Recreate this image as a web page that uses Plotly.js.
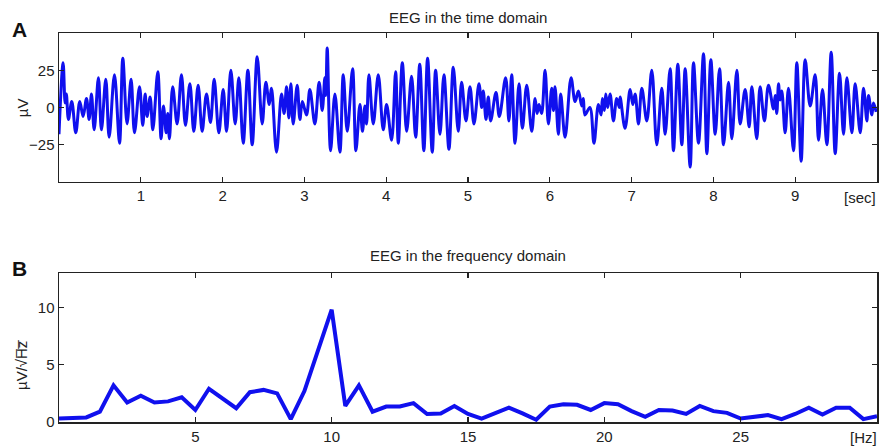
<!DOCTYPE html>
<html>
<head>
<meta charset="utf-8">
<script src="https://cdn.plot.ly/plotly-3.0.1.min.js"></script>
<style>html,body{margin:0;padding:0;background:#fff;}#chart{width:880px;height:448px;}</style>
</head>
<body>
<div id="chart"></div>
<script>
// Time domain EEG: turning points (seconds, microvolts)
const timeSec = [0.00,0.05,0.075,0.09,0.115,0.156,0.205,0.254,0.295,0.336,0.368,0.397,0.43,0.482,0.519,0.572,0.613,0.678,0.74,0.78,0.832,0.881,0.923,0.984,1.024,1.053,1.077,1.114,1.147,1.208,1.248,1.277,1.31,1.33,1.35,1.39,
1.444,1.497,1.546,1.60,1.648,1.701,1.75,1.803,1.852,1.897,1.954,2.007,2.048,2.101,2.154,2.199,2.252,2.309,2.362,2.423,2.484,2.529,2.57,2.598,2.659,2.72,
2.752,2.782,2.81,2.835,2.863,2.912,2.945,2.975,3.026,3.067,3.128,3.18,3.218,3.25,3.262,3.279,3.32,3.373,3.434,3.475,3.524,3.589,3.63,3.679,3.71,3.74,3.76,3.789,3.842,3.903,3.964,4.005,4.066,4.115,4.148,4.197,
4.25,4.31,4.36,4.41,4.46,4.506,4.563,4.604,4.657,4.706,4.767,4.82,4.881,4.922,4.975,5.024,5.073,5.134,5.167,5.187,5.22,5.248,5.277,5.342,5.383,5.46,5.50,5.534,5.575,
5.624,5.665,5.718,5.779,5.82,5.845,5.868,5.9,5.942,5.983,6.023,6.045,6.064,6.105,6.133,6.187,6.26,6.309,6.35,6.39,6.41,6.43,6.49,6.54,6.594,6.627,6.643,6.667,6.684,6.708,6.737,6.778,6.818,6.85,6.86,6.92,
6.982,7.015,7.043,7.084,7.125,7.186,7.247,7.308,7.369,7.41,7.471,7.512,7.565,7.614,7.655,7.716,7.757,7.818,7.879,7.92,7.969,8.022,8.075,8.124,8.185,8.225,8.287,8.327,8.388,
8.437,8.47,8.53,8.571,8.624,8.673,8.735,8.755,8.775,8.796,8.815,8.836,8.877,8.918,8.979,9.02,9.073,9.122,9.183,9.244,9.285,9.334,9.387,9.44,9.489,9.542,9.591,9.632,9.693,9.733,9.795,9.835,9.876,9.896,9.937,9.957,9.99];
const eegUv = [-18,30,3,9,-8,4,-17,4,-6,6,-8,9,-15,20,-15,19,-20,22,-24,33,-11,19,-17,14,-12,9,-6,7,-15,24,-21,1,-17,-4,-21,14,
-11,22,-12,16,-16,15,-16,9,-10,19,-17,12,-16,25,-11,20,-24,25,-25,34,-11,17,2,13,-30,9,
-4,14,-7,16,-11,15,-8,4,-5,12,-11,17,-2,20,8,40,-29,9,-30,22,-16,26,-29,2,-16,1,-11,22,-11,22,-15,2,-22,24,-24,30,
-16,21,-20,29,-29,33,-30,25,-18,22,-28,27,-16,17,-9,14,-11,16,0,11,-8,7,-9,10,-6,20,-9,22,-24,
16,-14,15,-16,6,-4,2,-4,25,-11,13,-2,14,-18,9,-20,20,4,11,1,6,-5,0,-24,2,-5,6,-2,9,0,9,-9,6,0,7,-14,
12,2,9,-11,13,-9,25,-25,13,-18,26,-29,29,-25,26,-40,30,-24,36,-31,32,-18,26,-25,17,-21,25,-11,12,
-13,14,-21,14,-9,15,-1,8,-4,16,5,11,-17,13,-29,30,-36,32,1,22,-22,12,-25,37,-31,23,-18,20,-17,16,-17,13,-9,8,-5,3,-3];

// Frequency domain amplitude spectrum (Hz, microvolt per root hertz)
const freqHz = [0,0.5,1,1.5,2,2.5,3,3.5,4,4.5,5,5.5,6,6.5,7,7.5,8,8.5,9,9.5,10,10.5,11,11.5,12,12.5,13,13.5,14,14.5,15,15.5,16,16.5,17,17.5,18,18.5,19,19.5,20,20.5,21,21.5,22,22.5,23,23.5,24,24.5,25,25.5,26,26.5,27,27.5,28,28.5,29,29.5,30];
const amplitude = [0.3,0.35,0.4,0.9,3.2,1.7,2.3,1.7,1.8,2.15,1.05,2.9,2.0,1.2,2.6,2.8,2.5,0.25,2.7,6.3,9.8,1.4,3.2,0.9,1.35,1.35,1.65,0.7,0.75,1.4,0.7,0.3,0.8,1.25,0.75,0.2,1.35,1.55,1.5,1.05,1.65,1.55,0.95,0.45,1.05,1.0,0.7,1.4,0.95,0.8,0.3,0.45,0.6,0.25,0.7,1.25,0.65,1.25,1.25,0.25,0.5];

const timeTicks = [1,2,3,4,5,6,7,8,9];
const freqTicks = [5,10,15,20,25];
const uvTicks = [-25,0,25];
const ampTicks = [0,5,10];

const fam = '"Liberation Sans", Arial, Helvetica, sans-serif';
const txt = {family:fam, size:15, color:'#222'};
const axisCommon = {showline:true, linecolor:'#222', linewidth:1.5, mirror:'ticks', ticks:'inside', ticklen:5, tickwidth:1.2, tickcolor:'#222', showgrid:false, zeroline:false, tickfont:txt};

const data = [
  {x: timeSec, y: eegUv, type:'scatter', mode:'lines', line:{color:'#1010ee', width:3, shape:'spline', smoothing:1}, xaxis:'x', yaxis:'y', hoverinfo:'skip'},
  {x: freqHz, y: amplitude, type:'scatter', mode:'lines', line:{color:'#1010ee', width:4}, xaxis:'x2', yaxis:'y2', hoverinfo:'skip'}
];

function note(text, x, y, extra) {
  return Object.assign({text:text, xref:'paper', yref:'paper', x:x, y:y, xanchor:'center', yanchor:'middle', showarrow:false, font:txt}, extra || {});
}

const layout = {
  width:880, height:448,
  margin:{l:59, r:3, t:33, b:26},
  paper_bgcolor:'#fff', plot_bgcolor:'#fff',
  font: txt,
  showlegend:false,
  xaxis: Object.assign({}, axisCommon, {domain:[0,1], range:[0,10], tickvals:timeTicks, anchor:'y'}),
  yaxis: Object.assign({}, axisCommon, {domain:[0.617,1], range:[-50,50], tickvals:uvTicks, anchor:'x'}),
  xaxis2: Object.assign({}, axisCommon, {domain:[0,1], range:[0,30], tickvals:freqTicks, anchor:'y2'}),
  yaxis2: Object.assign({}, axisCommon, {domain:[0,0.383], range:[0,13], tickvals:ampTicks, anchor:'x2'}),
  annotations:[
    note('EEG in the time domain', 0.5, 1.0386, {font:{family:fam, size:15, color:'#222'}}),
    note('EEG in the frequency domain', 0.5, 0.429, {font:{family:fam, size:15, color:'#222'}}),
    note('<b>A</b>', -0.0477, 1.008, {font:{family:fam, size:21, color:'#111'}}),
    note('<b>B</b>', -0.0477, 0.394, {font:{family:fam, size:21, color:'#111'}}),
    note('µV', -0.045, 0.807, {textangle:-90}),
    note('µV/√H̅z̅', -0.045, 0.147, {textangle:-90}),
    note('[sec]', 0.979, 0.578),
    note('[Hz]', 0.983, -0.0386)
  ]
};

Plotly.newPlot('chart', data, layout, {staticPlot:true, displayModeBar:false});
</script>
</body>
</html>
